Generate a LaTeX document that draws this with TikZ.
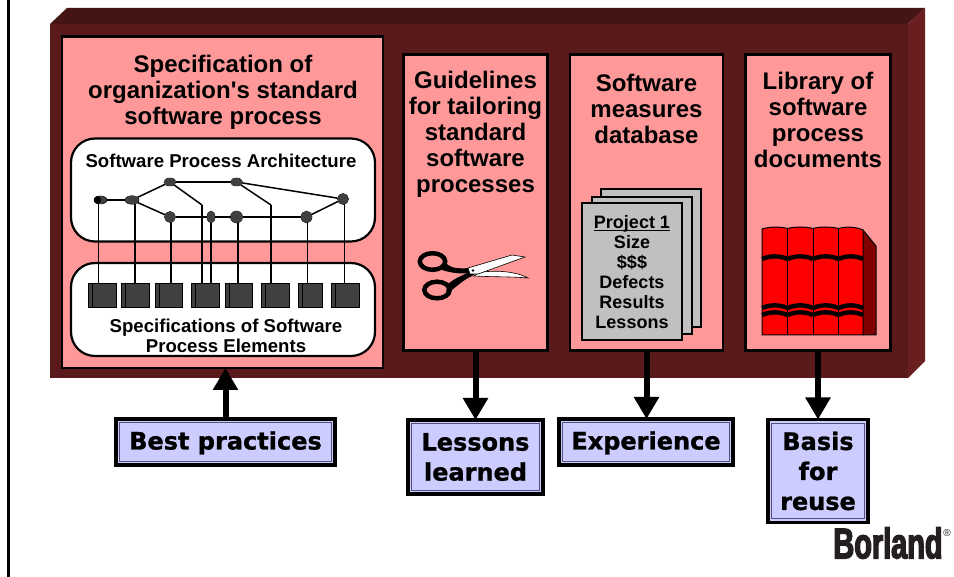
\documentclass[tikz,border=0pt]{standalone}
\usepackage{fontspec}
\setmainfont{Liberation Sans}
\newfontfamily\plainf{Liberation Sans}
\newfontfamily\labfont[FakeBold=1.1]{DejaVu Sans Bold}
\newfontfamily\blfont[FakeStretch=0.672,FakeBold=3]{Liberation Sans Bold}
\usetikzlibrary{arrows.meta,shapes.geometric,calc}
\definecolor{mfront}{HTML}{5A1A1C}
\definecolor{mtop}{HTML}{451414}
\definecolor{mside}{HTML}{6B1E20}
\definecolor{pinkb}{HTML}{FF9999}
\definecolor{lav}{HTML}{CCCCFF}
\definecolor{inner}{HTML}{50507A}
\definecolor{dkg}{HTML}{404040}
\definecolor{grayp}{HTML}{C0C0C0}
\definecolor{dred}{HTML}{800000}
\definecolor{logoc}{HTML}{231F20}
\tikzset{
  x=1pt,y=-1pt,
  every node/.style={outer sep=0pt},
  panel/.style={draw=black,line width=2.6pt,fill=pinkb,anchor=north west,inner sep=0pt},
  title/.style={font=\fontsize{24}{26}\selectfont\bfseries,align=center,inner sep=0pt},
  cloud/.style={draw=black,line width=2.2pt,fill=white,rounded corners=24pt,anchor=north west,inner sep=0pt},
  small/.style={font=\fontsize{18.6}{19.6}\selectfont\bfseries,align=center,inner sep=0pt},
  gnode/.style={ellipse,draw=black,line width=0.5pt,fill=dkg,inner sep=0pt},
  gedge/.style={draw=black,line width=1.5pt},
  square/.style={draw=black,line width=0.8pt,fill=dkg,anchor=north west,inner sep=0pt},
  page/.style={draw=black,line width=2.6pt,fill=grayp,anchor=north west,inner sep=0pt},
  lab/.style={draw=black,line width=3.6pt,fill=lav,anchor=north west,inner sep=0pt,align=center,
     font=\labfont\fontsize{24}{30}\selectfont},
  onelab/.style={lab,text height=15pt,text depth=0pt},
  labin/.style={draw=inner,line width=1pt},
  bigarrow/.style={draw=black,line width=6pt,-{Triangle[length=22pt,width=24pt]}},
  bandline/.style={draw=black,line width=4.4pt},
  bookline/.style={draw=black,line width=1pt},
}
\begin{document}
\begin{tikzpicture}
\useasboundingbox (0,0) rectangle (954,577);
\fill[white] (0,0) rectangle (954,577);
\draw[black,line width=2.4pt] (8.5,0) -- (8.5,577);
% cabinet
\fill[mfront] (50,24) rectangle (908,378);
\fill[mtop] (50,24) -- (67,8) -- (925,8) -- (908,24) -- cycle;
\fill[mside] (908,24) -- (925,8) -- (925,361) -- (908,378) -- cycle;
% panels
\node[panel,minimum width=321pt,minimum height=331.5pt] (box1) at (62,36.5) {};
\node[panel,minimum width=144pt,minimum height=296pt] (box2) at (403.5,54.5) {};
\node[panel,minimum width=153pt,minimum height=296pt] (box3) at (570,54.5) {};
\node[panel,minimum width=145pt,minimum height=296pt] (box4) at (745.5,54.5) {};
\node[title] (t1) at (223,92.5) {Specification of\\organization{\plainf\bfseries '}s standard\\software process};
\node[title] (t2) at (475.5,134.5) {Guidelines\\for tailoring\\standard\\software\\processes};
\node[title] (t3) at (646.5,108.5) {Software\\measures\\database};
\node[title] (t4) at (818,119.5) {Library of\\software\\process\\documents};
% architecture
\node[cloud,minimum width=304pt,minimum height=103pt] (arch) at (71,138.5) {};
\node[cloud,minimum width=304pt,minimum height=93pt] (spec) at (71,263) {};
\node[small] (archt) at (221,160.5) {Software Process Architecture};
\node[small] (spect) at (226,336) {Specifications of Software\\Process Elements};
\foreach \n/\a/\w in {1/88/28,2/121/28,3/155/27,4/191/28,5/225/27,6/261/28,7/298/24,8/331/28}{
  \node[square,minimum width=\w pt,minimum height=24pt] (s\n) at (\a,283) {};
  \draw[black,line width=1pt] ($(s\n.north west)+(4,0)$) -- ($(s\n.south west)+(4,0)$);
}
\node[gnode,minimum width=13pt,minimum height=8pt] (n1) at (100.5,200) {};
\node[gnode,minimum width=14pt,minimum height=8.5pt] (n2) at (132,200) {};
\node[gnode,minimum width=12pt,minimum height=8pt] (n3) at (170,182) {};
\node[gnode,minimum width=12pt,minimum height=8pt] (n4) at (236.5,182) {};
\node[gnode,minimum width=11pt,minimum height=11pt] (n5) at (343,199) {};
\node[gnode,minimum width=11pt,minimum height=11pt] (n6) at (170,217) {};
\node[gnode,minimum width=8pt,minimum height=12pt] (n7) at (211,217) {};
\node[gnode,minimum width=12pt,minimum height=12pt] (n8) at (236.5,217) {};
\node[gnode,minimum width=11pt,minimum height=12pt] (n9) at (306.5,217) {};
\coordinate (c1) at (202,205);
\coordinate (c2) at (271,205);
\draw[gedge] (n1) -- (n2);
\draw[gedge] (n2) -- (n3);
\draw[gedge] (n2) -- (n6);
\draw[gedge] (n3) -- (n4);
\draw[gedge] (n4) -- (n5);
\draw[gedge] (n3) -- (c1);
\draw[gedge] (n4) -- (c2);
\draw[gedge] (n6) -- (n7);
\draw[gedge] (n7) -- (n8);
\draw[gedge] (n8) -- (n9);
\draw[gedge] (n9) -- (n5);
\draw[gedge] (98.5,204) -- (98.5,283);
\draw[gedge] (135,204) -- (135,283);
\draw[gedge] (171,222) -- (171,283);
\draw[gedge] (c1) -- (c1 |- s4.north);
\draw[gedge] (n7.south) -- (n7 |- s4.north);
\draw[gedge] (238,222) -- (238,283);
\draw[gedge] (c2) -- (c2 |- s6.north);
\draw[gedge] (307.5,222) -- (307.5,283);
\draw[gedge] (344.5,204) -- (344.5,283);
\fill[dkg] (n1) ellipse (5.5pt and 4pt);
\fill[black] (97.5,200) ellipse (3.5pt and 4pt);
\fill[dkg] (n2) ellipse (7pt and 4.2pt);
\fill[dkg] (n3) ellipse (6pt and 4pt);
\fill[dkg] (n4) ellipse (6pt and 4pt);
\fill[dkg] (n5) circle (5.5pt);
\fill[dkg] (n6) circle (5.5pt);
\fill[dkg] (n7) ellipse (4pt and 6pt);
\fill[dkg] (n8) circle (6pt);
\fill[dkg] (n9) ellipse (5.5pt and 6pt);
% scissors
\draw[black,line width=4.5pt] (432.5,261.5) ellipse (12.7pt and 8.3pt);
\draw[black,line width=4.5pt] (437,290) ellipse (12.7pt and 8.3pt);
\fill[black] (445,262) .. controls (450,268) and (456,269) .. (470,268) -- (472,273) .. controls (458,274) and (452,273) .. (442,270) -- cycle;
\fill[black] (447,285) .. controls (452,280) and (460,276) .. (472,271) -- (474,275) .. controls (462,280) and (456,288) .. (446,294) -- cycle;
\draw[black,line width=0.6pt,fill=white] (479,272.5) .. controls (495,270) and (515,271) .. (528,278) .. controls (510,276.5) and (492,277) .. (474,276) -- cycle;
\draw[black,line width=0.6pt,fill=white] (468,268) -- (512,255) -- (525,257) -- (478,274) -- (470,274) -- cycle;
\fill[black] (473,270.5) circle (1.4pt);
% documents
\node[page,minimum width=100pt,minimum height=138pt] (p3) at (601,189) {};
\node[page,minimum width=100pt,minimum height=137pt] (p2) at (592,197) {};
\node[page,minimum width=100pt,minimum height=137pt] (p1) at (582,203) {};
\node[font=\fontsize{18}{20}\selectfont\bfseries,align=center,inner sep=0pt] (pt) at (632,279)
  {\underline{\smash{Project 1}}\\Size\\\$\$\$\\Defects\\Results\\Lessons};
% books
\fill[dred] (863,230) -- (876,246) -- (876,335) -- (863,335) -- cycle;
\draw[bookline] (863,230) -- (876,246) -- (876,335) -- (863,335);
\fill[red] (762,229) .. controls (770,226.5) and (780,226.5) .. (787.5,228.5) .. controls (795,226.5) and (805,226.5) .. (813,228.5) .. controls (820,226.5) and (830,226.5) .. (838.5,228.5) .. controls (846,226.5) and (855,226.5) .. (863,230) -- (863,335) -- (762,335) -- cycle;
\draw[bookline] (762,229) .. controls (770,226.5) and (780,226.5) .. (787.5,228.5) .. controls (795,226.5) and (805,226.5) .. (813,228.5) .. controls (820,226.5) and (830,226.5) .. (838.5,228.5) .. controls (846,226.5) and (855,226.5) .. (863,230) -- (863,335) -- (762,335) -- cycle;
\foreach \x in {787.5,813,838.5}{\draw[bookline] (\x,228.5) -- (\x,335);}
\foreach \y in {259,308,315}{
  \foreach \a/\b in {762/787.5,787.5/813,813/838.5,838.5/863}{
    \draw[bandline] (\a,\y) .. controls ($(\a,\y)+(8,-3.5)$) and ($(\b,\y)+(-8,-3.5)$) .. (\b,\y);
  }
}
% labels
\node[onelab,minimum width=219pt,minimum height=46pt] (bp) at (116,419) {Best practices};
\node[lab,minimum width=135pt,minimum height=74pt] (ll) at (408,420) {Lessons\\learned};
\node[onelab,minimum width=174pt,minimum height=46pt] (ex) at (559,419) {Experience};
\node[lab,minimum width=100pt,minimum height=103pt] (br) at (768,419.5) {Basis\\for\\reuse};
\foreach \q in {bp,ll,ex,br}{
  \draw[labin] ($(\q.north west)+(3.6,3.6)$) rectangle ($(\q.south east)+(-3.6,-3.6)$);
}
% arrows
\draw[bigarrow] (bp.north) -- (bp.north |- box1.south);
\draw[bigarrow] (box2.south) -- (box2.south |- ll.north);
\draw[bigarrow] (box3.south) -- (box3.south |- ex.north);
\draw[bigarrow] (box4.south) -- (box4.south |- br.north);
% logo
\node[inner sep=0pt,text=logoc,font=\blfont\fontsize{43}{43}\selectfont] (logo) at (888,543) {Borland};
\node[inner sep=0pt,text=logoc,font=\fontsize{10}{10}\selectfont] (reg) at (947,533) {®};
\end{tikzpicture}
\end{document}
